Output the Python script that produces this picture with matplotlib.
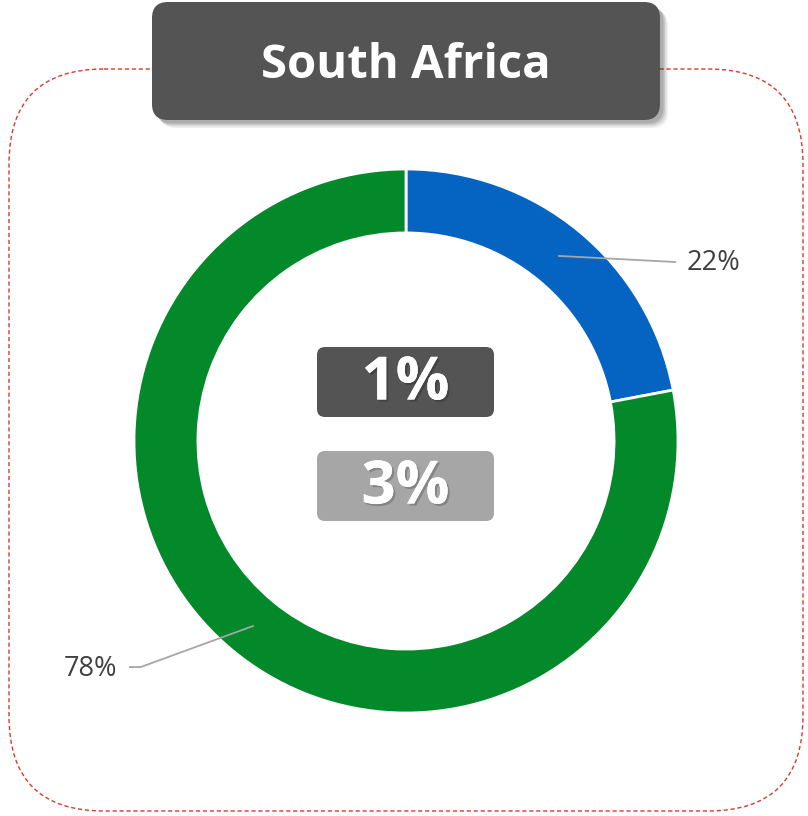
import matplotlib.pyplot as plt
import matplotlib.patheffects as pe
from matplotlib.patches import FancyBboxPatch
import numpy as np

# data
title = "South Africa"
shares = [22, 78]
colors = ["#0563C1", "#03882A"]
kpi_top = "1%"
kpi_bottom = "3%"

plt.rcParams['font.family'] = ['Open Sans', 'DejaVu Sans']

fig = plt.figure(figsize=(8.08, 8.16), dpi=100)

# background layer in pixel coords
bg = fig.add_axes([0, 0, 1, 1])
bg.set_xlim(0, 808)
bg.set_ylim(816, 0)
bg.axis('off')

# dashed red frame
frame = FancyBboxPatch((9, 69), 794, 742, boxstyle="round,pad=0,rounding_size=95",
                       fill=False, edgecolor="#D9392E", linewidth=1.0, linestyle=(0, (3, 2)))
bg.add_patch(frame)

# title box with soft shadow
for i, a in enumerate([0.06, 0.08, 0.10, 0.12]):
    off = 8 - i * 1.5
    sh = FancyBboxPatch((152 + off, 2 + off), 508, 118, boxstyle="round,pad=0,rounding_size=16",
                        facecolor="black", edgecolor="none", alpha=a)
    bg.add_patch(sh)
tbox = FancyBboxPatch((152, 2), 508, 118, boxstyle="round,pad=0,rounding_size=16",
                      facecolor="#545454", edgecolor="none")
bg.add_patch(tbox)
bg.text(406, 66, title, color="white", fontsize=34, fontweight="bold",
        ha="center", va="center")

# donut
ax = fig.add_axes([134 / 808, (816 - 713) / 816, 544 / 808, 544 / 816])
wedges, _ = ax.pie(shares, colors=colors, startangle=90, counterclock=False,
                   radius=1, wedgeprops=dict(width=0.235, edgecolor="white", linewidth=2))
ax.set_xlim(-1, 1)
ax.set_ylim(-1, 1)
ax.set_aspect('equal')
ax.axis('off')

# labels with leader lines
text_pos = [(1.13, 0.656), (-1.16, -0.837)]
elbows = [(0.99, 0.658), (-0.975, -0.831)]
for w, val, tp, el in zip(wedges, shares, text_pos, elbows):
    ang = np.deg2rad((w.theta1 + w.theta2) / 2)
    p = (0.883 * np.cos(ang), 0.883 * np.sin(ang))
    xs = [p[0], el[0]]
    ys = [p[1], el[1]]
    if tp[0] < 0:
        xs.append(el[0] - 0.04)
        ys.append(el[1])
    ax.plot(xs, ys, color="#A6A6A6", linewidth=1.3, clip_on=False)
    ax.text(tp[0], tp[1], f"{val}%", color="#404040", fontsize=19.5,
            ha="center", va="center", clip_on=False)

# center KPI boxes
shadow = [pe.withSimplePatchShadow(offset=(1.5, -1.5), shadow_rgbFace="black", alpha=0.2), pe.Normal()]
for y0, fc, txt in [(347, "#545454", kpi_top), (451, "#A6A6A6", kpi_bottom)]:
    b = FancyBboxPatch((317, y0), 177, 70, boxstyle="round,pad=0,rounding_size=8",
                       facecolor=fc, edgecolor="none", zorder=5)
    bg.add_patch(b)
    bg.text(405.5, y0 + 37, txt, color="white", fontsize=43, fontweight="bold",
            ha="center", va="center", zorder=6, path_effects=shadow)

bg.set_zorder(ax.get_zorder() + 1)
bg.patch.set_visible(False)

fig.savefig("out.png", dpi=100)
